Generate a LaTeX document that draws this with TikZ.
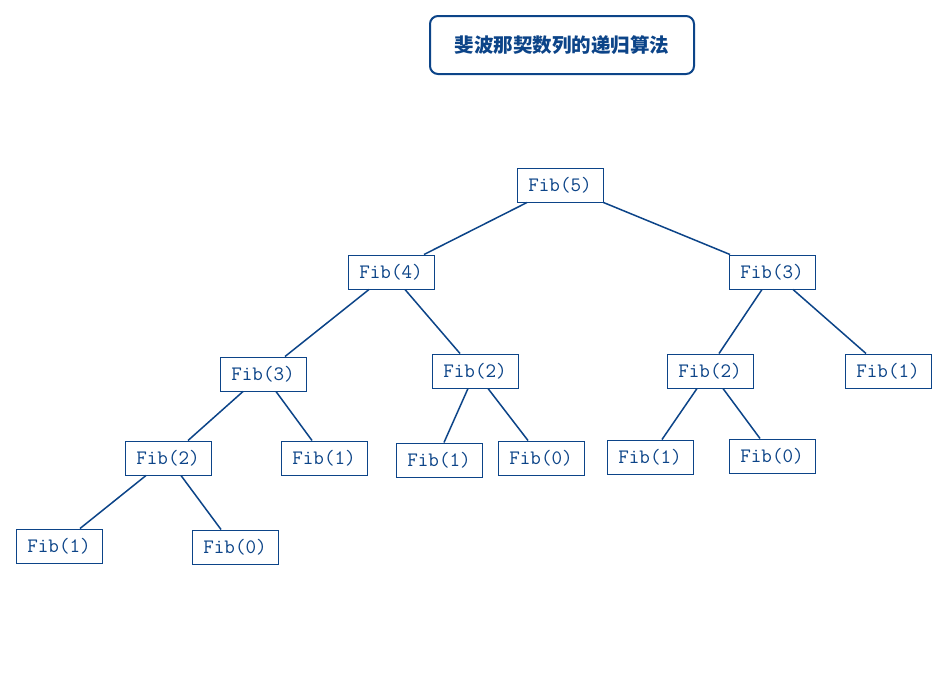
\documentclass[tikz,border=0pt]{standalone}
\usepackage{fontspec}
\newfontfamily\cjk{Noto Sans CJK SC}
\usetikzlibrary{positioning}
\definecolor{fibblue}{RGB}{12,68,136}
\tikzset{
  call/.style={draw=fibblue, text=fibblue, line width=1pt, rectangle, minimum width=86pt, minimum height=34pt, inner sep=0pt, font=\ttfamily\fontsize{20.5}{20}\selectfont},
  titlebox/.style={draw=fibblue, text=fibblue, line width=2pt, rounded corners=8pt, minimum width=264pt, minimum height=58pt, font=\cjk\bfseries\fontsize{19.5}{20}\selectfont}
}
\begin{document}
\begin{tikzpicture}[x=1pt, y=-1pt, on grid, every path/.style={draw=fibblue, line width=1.5pt}]
          \useasboundingbox[fill=white, draw=none] (0,0) rectangle (948,678);
          \node[call](f5) at (560,185){Fib(5)};
          \node[titlebox, above right=140pt and 2pt of f5](title){斐波那契数列的递归算法};
          \node[call, below left =87pt and 169pt of f5](f4){Fib(4)};
          \node[call, below right=87pt and 212pt of f5](f3){Fib(3)};
          \node[call, below left =102pt and 128pt of f4](f3a){Fib(3)};
          \node[call, below right=99pt and 84pt of f4](f2a){Fib(2)};
          \node[call, below left =99pt and 62pt of f3](f2b){Fib(2)};
          \node[call, below right=99pt and 116pt of f3](f1a){Fib(1)};
          \node[call, below left =84pt and 95pt of f3a](f2c){Fib(2)};
          \node[call, below right=84pt and 61pt of f3a](f1b){Fib(1)};
          \node[call, below left =89pt and 36pt of f2a](f1c){Fib(1)};
          \node[call, below right=87pt and 66pt of f2a](f0a){Fib(0)};
          \node[call, below left =86pt and 60pt of f2b](f1d){Fib(1)};
          \node[call, below right=85pt and 62pt of f2b](f0b){Fib(0)};
          \node[call, below left =88pt and 109pt of f2c](f1e){Fib(1)};
          \node[call, below right=89pt and 67pt of f2c](f0c){Fib(0)};
          \draw ([xshift=-33pt]f5.south) -- ([xshift=33pt]f4.north);
          \draw (f5.south east) -- ([xshift=-42pt]f3.north);
          \draw ([xshift=-22pt]f4.south) -- ([xshift=22pt]f3a.north);
          \draw ([xshift=14pt]f4.south) -- ([xshift=-15pt]f2a.north);
          \draw ([xshift=-10pt]f3.south) -- ([xshift=9pt]f2b.north);
          \draw ([xshift=21pt]f3.south) -- ([xshift=-22pt]f1a.north);
          \draw ([xshift=-20pt]f3a.south) -- ([xshift=20pt]f2c.north);
          \draw ([xshift=13pt]f3a.south) -- ([xshift=-12pt]f1b.north);
          \draw ([xshift=-7pt]f2a.south) -- ([xshift=5pt]f1c.north);
          \draw ([xshift=13pt]f2a.south) -- ([xshift=-13pt]f0a.north);
          \draw ([xshift=-13pt]f2b.south) -- ([xshift=12pt]f1d.north);
          \draw ([xshift=13pt]f2b.south) -- ([xshift=-12pt]f0b.north);
          \draw ([xshift=-22pt]f2c.south) -- ([xshift=21pt]f1e.north);
          \draw ([xshift=13pt]f2c.south) -- ([xshift=-14pt]f0c.north);
        \end{tikzpicture}
\end{document}
